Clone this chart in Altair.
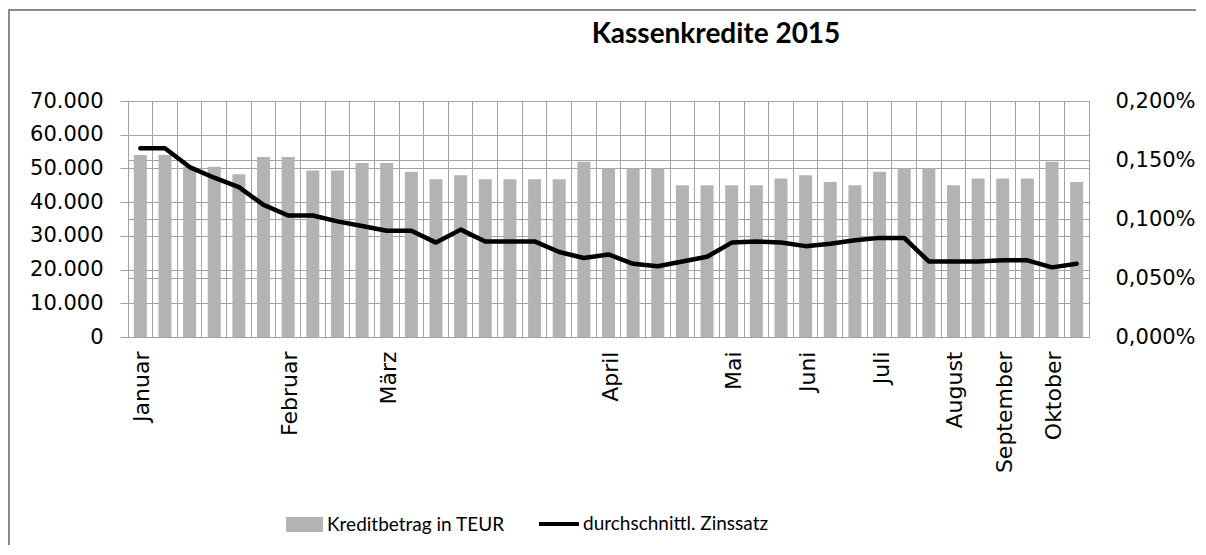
import json
import altair as alt
import pandas as pd

# ---- data ----
kredit = [54000, 54000, 50500, 50500, 48300, 53400, 53400, 49400, 49400, 51600,
          51600, 49000, 46800, 48000, 46800, 46800, 46800, 46800, 52000, 50000,
          50000, 50000, 45000, 45000, 45000, 45000, 47000, 48000, 46000, 45000,
          49000, 50000, 50000, 45000, 47000, 47000, 47000, 52000, 46000]
zinssatz_pct = [0.160, 0.160, 0.144, 0.135, 0.127, 0.112, 0.103, 0.103, 0.098, 0.094,
                0.090, 0.090, 0.080, 0.091, 0.081, 0.081, 0.081, 0.072, 0.067, 0.070,
                0.062, 0.060, 0.064, 0.068, 0.080, 0.081, 0.080, 0.077, 0.079, 0.082,
                0.084, 0.084, 0.064, 0.064, 0.064, 0.065, 0.065, 0.059, 0.062]
month_at = {0: "Januar", 6: "Februar", 10: "März", 19: "April", 24: "Mai",
            27: "Juni", 30: "Juli", 33: "August", 35: "September", 37: "Oktober"}
tick_labels = [month_at.get(i, "") for i in range(len(kredit))]
left_ticks = [0, 10000, 20000, 30000, 40000, 50000, 60000, 70000]
right_ticks = [0, 0.0005, 0.001, 0.0015, 0.002]
bar_name = "Kreditbetrag in TEUR"
line_name = "durchschnittl. Zinssatz"
title_text = "Kassenkredite 2015"

df = pd.DataFrame({
    "idx": list(range(len(kredit))),
    "kredit": kredit,
    "zins": [v / 100 for v in zinssatz_pct],
})

W, H = 961, 236
GRID = "#a3a3a3"
AXF = "DejaVu Sans"

label_expr = json.dumps(tick_labels) + "[datum.value]"

x_axis = alt.Axis(
    title=None, labelExpr=label_expr, labelAngle=270, labelAlign="right",
    labelBaseline="middle", labelFont=AXF, labelFontSize=22, labelColor="#000",
    labelPadding=14, labelOffset=2, bandPosition=0, ticks=False,
    grid=True, gridColor=GRID, gridWidth=1, domainColor=GRID, domainWidth=1,
    labelOverlap=False, labelLimit=300,
)
x_scale = alt.Scale(paddingInner=0, paddingOuter=0)

bars = alt.Chart(df).transform_calculate(s1=f"'{bar_name}'").mark_bar(
    width=13
).encode(
    x=alt.X("idx:O", scale=x_scale, axis=x_axis),
    y=alt.Y(
        "kredit:Q",
        scale=alt.Scale(domain=[0, 70000], nice=False),
        axis=alt.Axis(
            title=None, values=left_ticks, labelFont=AXF, labelFontSize=21,
            labelColor="#000",
            labelExpr="replace(format(datum.value, ',.0f'), ',', '.')",
            tickSize=8, tickColor=GRID, labelPadding=17, grid=True, gridColor=GRID,
            domainColor=GRID,
        ),
    ),
    color=alt.Color(
        "s1:N",
        scale=alt.Scale(domain=[bar_name], range=["#b3b3b3"]),
        legend=alt.Legend(
            orient="none", legendX=158, legendY=405, title=None,
            symbolType="M-1,-0.4H1V0.4H-1Z", symbolSize=1369, symbolStrokeWidth=0,
            labelFont="Lato", labelFontSize=19, labelColor="#000", labelOffset=4,
            padding=0, labelLimit=400,
        ),
    ),
)

line = alt.Chart(df).transform_calculate(s2=f"'{line_name}'").mark_line(
    strokeWidth=4.5, strokeJoin="round", strokeCap="round"
).encode(
    x=alt.X("idx:O", scale=x_scale, axis=x_axis),
    y=alt.Y(
        "zins:Q",
        scale=alt.Scale(domain=[0, 0.002], nice=False),
        axis=alt.Axis(
            title=None, orient="right", values=right_ticks, labelFont=AXF,
            labelFontSize=21, labelColor="#000",
            labelExpr="replace(format(datum.value, '.3%'), '.', ',')",
            ticks=False, labelPadding=26, grid=True, gridColor=GRID,
            domainColor=GRID,
        ),
    ),
    stroke=alt.Stroke(
        "s2:N",
        scale=alt.Scale(domain=[line_name], range=["#000000"]),
        legend=alt.Legend(
            orient="none", legendX=409, legendY=401, title=None,
            symbolType="stroke", symbolSize=1600, symbolStrokeWidth=4,
            labelFont="Lato", labelFontSize=19, labelColor="#000", labelOffset=2,
            padding=0, labelLimit=400,
        ),
    ),
)

frame_data = alt.Data(values=[{"b": 1}])
border_top = alt.Chart(frame_data).mark_rule(
    stroke="#8a8a8a", strokeWidth=2
).encode(x=alt.value(-119), x2=alt.value(1068), y=alt.value(-91))
border_left = alt.Chart(frame_data).mark_rule(
    stroke="#8a8a8a", strokeWidth=2
).encode(x=alt.value(-119), y=alt.value(-92), y2=alt.value(444))

title = alt.Chart(alt.Data(values=[{"t": title_text}])).mark_text(
    font="Lato", fontSize=28, fontWeight="bold", color="#000",
    align="center", baseline="alphabetic",
).encode(
    text="t:N", x=alt.value(588), y=alt.value(-58)
)

chart = alt.layer(border_top, border_left, bars, line, title).resolve_scale(
    y="independent", color="independent", stroke="independent"
).properties(
    width=W, height=H,
    autosize=alt.AutoSizeParams(type="none"),
    padding={"left": 120, "top": 93, "right": 109, "bottom": 210},
).configure_view(stroke=GRID, strokeWidth=1).configure(background="white")

chart.save("out.html", embed_options={"renderer": "svg", "actions": False})
